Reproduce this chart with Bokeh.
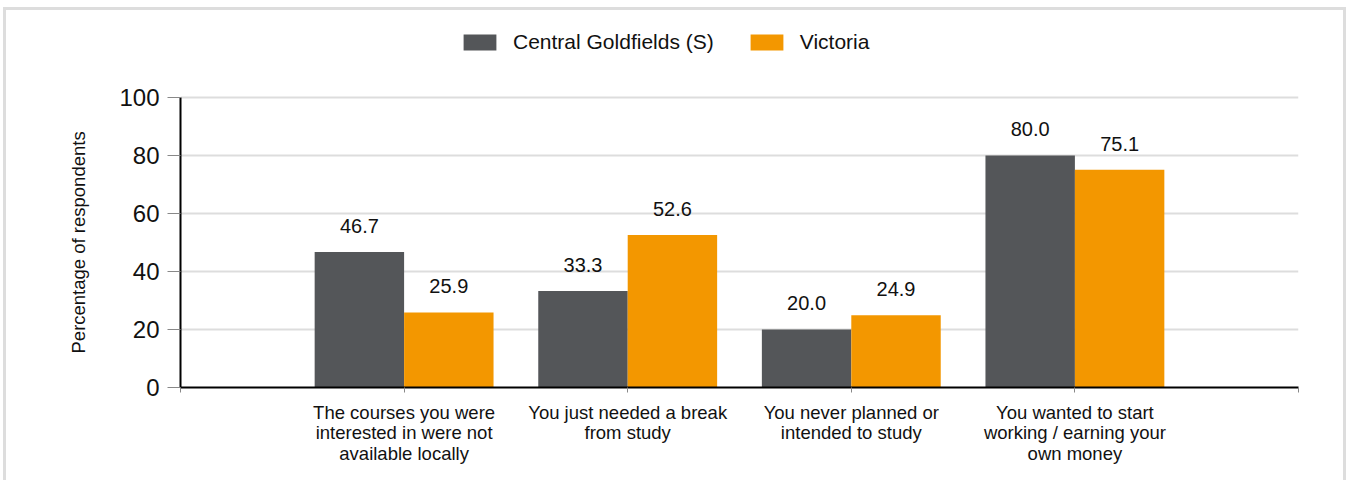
import numpy as np
from bokeh.plotting import figure
from bokeh.models import Legend, LegendItem, FixedTicker, ColumnDataSource, Title
from bokeh.core.properties import value
from bokeh.embed import file_html
from bokeh.resources import INLINE

categories = [
    "The courses you were\ninterested in were not\navailable locally",
    "You just needed a break\nfrom study",
    "You never planned or\nintended to study",
    "You wanted to start\nworking / earning your\nown money",
]
central = [46.7, 33.3, 20.0, 80.0]
victoria = [25.9, 52.6, 24.9, 75.1]
series_names = ["Central Goldfields (S)", "Victoria"]
y_ticks = [0, 20, 40, 60, 80, 100]
y_title = "Percentage of respondents"

DARK = "#545659"
ORANGE = "#f39700"
FONT = "Liberation Sans"

pos = np.arange(1, len(categories) + 1)
src_c = ColumnDataSource(dict(x=pos - 0.2, top=central, lbl=[f"{v:.1f}" for v in central]))
src_v = ColumnDataSource(dict(x=pos + 0.2, top=victoria, lbl=[f"{v:.1f}" for v in victoria]))

p = figure(width=1343, height=473, x_range=(0, len(categories) + 1), y_range=(0, 127.24),
           output_backend="svg", toolbar_location=None,
           min_border_left=174, min_border_right=51, min_border_top=8, min_border_bottom=96)
p.margin = (7, 0, 0, 3)
p.styles = {"border": "3px solid #dddddd", "border-bottom": "none", "overflow": "hidden"}
p.outline_line_color = None
p.background_fill_color = "white"
p.border_fill_color = "white"

r1 = p.vbar(x="x", top="top", width=0.4, source=src_c, fill_color=DARK, line_color=None)
r2 = p.vbar(x="x", top="top", width=0.4, source=src_v, fill_color=ORANGE, line_color=None)

for s in (src_c, src_v):
    p.text(x="x", y="top", text="lbl", source=s, text_align="center", text_baseline="alphabetic",
           y_offset=-26, text_font=value(FONT), text_font_size="20px", text_color="#111111")

# x axis
p.xaxis.ticker = FixedTicker(ticks=list(range(0, len(categories) + 2)))
overrides = {0: "", len(categories) + 1: ""}
for i, c in enumerate(categories):
    overrides[i + 1] = c
p.xaxis.major_label_overrides = overrides
p.xaxis.axis_line_color = "black"
p.xaxis.axis_line_width = 2
p.xaxis.major_tick_line_color = "#888888"
p.xaxis.major_tick_out = 5
p.xaxis.major_tick_in = 0
p.xaxis.minor_tick_line_color = None
p.xaxis.major_label_text_font = FONT
p.xaxis.major_label_text_font_size = "18.5px"
p.xaxis.major_label_text_color = "#111111"
p.xaxis.major_label_text_line_height = 0.98
p.xaxis.major_label_standoff = 9
p.xgrid.visible = False

# y axis
p.yaxis.ticker = FixedTicker(ticks=y_ticks)
p.yaxis.bounds = (0, 100)
p.yaxis.axis_line_color = "black"
p.yaxis.axis_line_width = 2
p.yaxis.major_tick_line_color = "#888888"
p.yaxis.major_tick_out = 13
p.yaxis.major_tick_in = 0
p.yaxis.minor_tick_line_color = None
p.yaxis.major_label_text_font = FONT
p.yaxis.major_label_text_font_size = "24px"
p.yaxis.major_label_text_color = "#111111"
p.yaxis.major_label_standoff = 8
p.ygrid.grid_line_color = "#dddddd"
p.ygrid.grid_line_width = 2

p.add_layout(Title(text=y_title, align="left", offset=34, standoff=55,
                   text_font=FONT, text_font_size="18.5px", text_font_style="normal",
                   text_color="#111111"), "left")

legend = Legend(items=[LegendItem(label=series_names[0], renderers=[r1]),
                       LegendItem(label=series_names[1], renderers=[r2])],
                orientation="horizontal", location=(279, 333),
                glyph_width=41, glyph_height=20, label_standoff=13, spacing=32,
                padding=0, margin=0, border_line_color=None, background_fill_alpha=0,
                label_text_font=FONT, label_text_font_size="21px", label_text_color="#111111",
                label_height=20)
p.add_layout(legend, "center")

open("out.html", "w").write(file_html(p, INLINE))
